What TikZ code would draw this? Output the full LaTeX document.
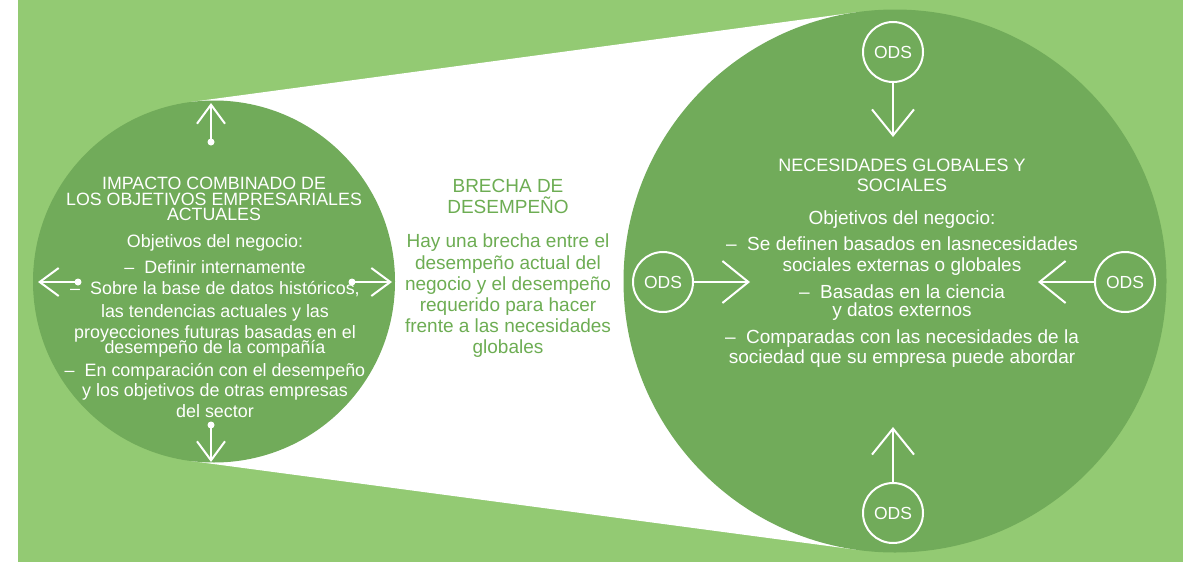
\documentclass[tikz,border=0pt]{standalone}
\usepackage{fontspec}
\setmainfont{Liberation Sans}
\usetikzlibrary{arrows.meta,calc,positioning}
\definecolor{lightleaf}{HTML}{93CA73}
\definecolor{darkleaf}{HTML}{71AB5A}
\definecolor{gaptext}{HTML}{6DAD53}

\begin{document}
\begin{tikzpicture}[x=1pt,y=-1pt]
        \tikzstyle{ods}=[circle,draw=white,line width=2pt,minimum size=60pt,inner sep=0pt,text=white,font=\fontsize{17.5}{20}\selectfont]
        \tikzstyle{dot}=[circle,fill=white,inner sep=0pt,minimum size=7pt]
        \tikzstyle{bigarrow}=[white,line width=2pt,-{Straight Barb[length=26pt,width=42pt]}]
        \tikzstyle{smallarrow}=[white,line width=2pt,-{Straight Barb[length=19pt,width=28pt]}]
        \tikzstyle{blocktext}=[align=center,inner sep=0pt,anchor=north]

        % Background
        \useasboundingbox (0,0) rectangle (1183,562);
        \fill[white] (0,0) rectangle (1183,562);
        \fill[lightleaf] (18,0) rectangle (1183,562);

        % Circle centres
        \coordinate (cur) at (214,281.5);
        \coordinate (glob) at (895,281);

        % White gap between the two circles (outer tangents)
        \fill[white] ($(cur)+(-97.64:181)$) -- ($(glob)+(-97.64:271.5)$)
            -- ($(glob)+(97.64:271.5)$) -- ($(cur)+(97.64:181)$) -- cycle;

        % Draw the circles
        \fill[darkleaf] (cur) circle[radius=181];
        \fill[darkleaf] (glob) circle[radius=271.5];

        % Current objectives
        \node[blocktext,text=white,font=\fontsize{17.8}{15.5}\selectfont] (curtitle) at (214,177)
            {IMPACTO COMBINADO DE\\LOS OBJETIVOS EMPRESARIALES\\ACTUALES};
        \node[blocktext,text=white,font=\fontsize{17.9}{21}\selectfont] (curbody) at (215,234)
            {Objetivos del negocio:\\[5pt]
             –~ Definir internamente\\
             –~ Sobre la base de datos históricos,\\[2pt]
             las tendencias actuales y las\\
             proyecciones futuras basadas en el\\[-6pt]
             desempeño de la compañía\\[2pt]
             –~ En comparación con el desempeño\\[-1pt]
             y los objetivos de otras empresas\\
             del sector};

        % Performance gap
        \node[blocktext,text=gaptext,font=\fontsize{19}{21}\selectfont] (gaptitle) at (508,179.5)
            {BRECHA DE\\DESEMPEÑO};
        \node[blocktext,text=gaptext,font=\fontsize{19}{21.2}\selectfont] (gapbody) at (508,234)
            {Hay una brecha entre el\\desempeño actual del\\negocio y el desempeño\\requerido para hacer\\frente a las necesidades\\globales};

        % Global and social needs
        \node[blocktext,text=white,font=\fontsize{18}{20}\selectfont] (globtitle) at (902,159)
            {NECESIDADES GLOBALES Y\\SOCIALES};
        \node[blocktext,text=white,font=\fontsize{19}{21}\selectfont] (globbody) at (902,211)
            {Objetivos del negocio:\\[5pt]
             –~ Se definen basados en lasnecesidades\\
             sociales externas o globales\\[6pt]
             –~ Basadas en la ciencia\\[-3pt]
             y datos externos\\[6pt]
             –~ Comparadas con las necesidades de la\\[-1pt]
             sociedad que su empresa puede abordar};

        % Arrows out of the left circle
        \node[dot] (dotup) at (211,142) {};
        \node[dot] (dotdown) at (211,425) {};
        \node[dot] (dotleft) at (78,282) {};
        \node[dot] (dotright) at (352,282) {};
        \coordinate (tipup) at (211,103);
        \coordinate (tipdown) at (211,462);
        \coordinate (tipleft) at (38,282);
        \coordinate (tipright) at (392,282);
        \draw[smallarrow] (dotup.center) -- (tipup);
        \draw[smallarrow] (dotdown.center) -- (tipdown);
        \draw[smallarrow] (dotleft.center) -- (tipleft);
        \draw[smallarrow] (dotright.center) -- (tipright);

        % ODS circles pointing into the right circle
        \node[ods] (odsn) at (893,52) {ODS};
        \node[ods] (odss) at (893,513) {ODS};
        \node[ods] (odsw) at (663,282) {ODS};
        \node[ods] (odse) at (1125,282) {ODS};
        \coordinate (tipn) at (893,137);
        \coordinate (tips) at (893,427);
        \coordinate (tipw) at (750,282);
        \coordinate (tipe) at (1038,282);
        \draw[bigarrow] (odsn) -- (tipn);
        \draw[bigarrow] (odss) -- (tips);
        \draw[bigarrow] (odsw) -- (tipw);
        \draw[bigarrow] (odse) -- (tipe);
\end{tikzpicture}
\end{document}
